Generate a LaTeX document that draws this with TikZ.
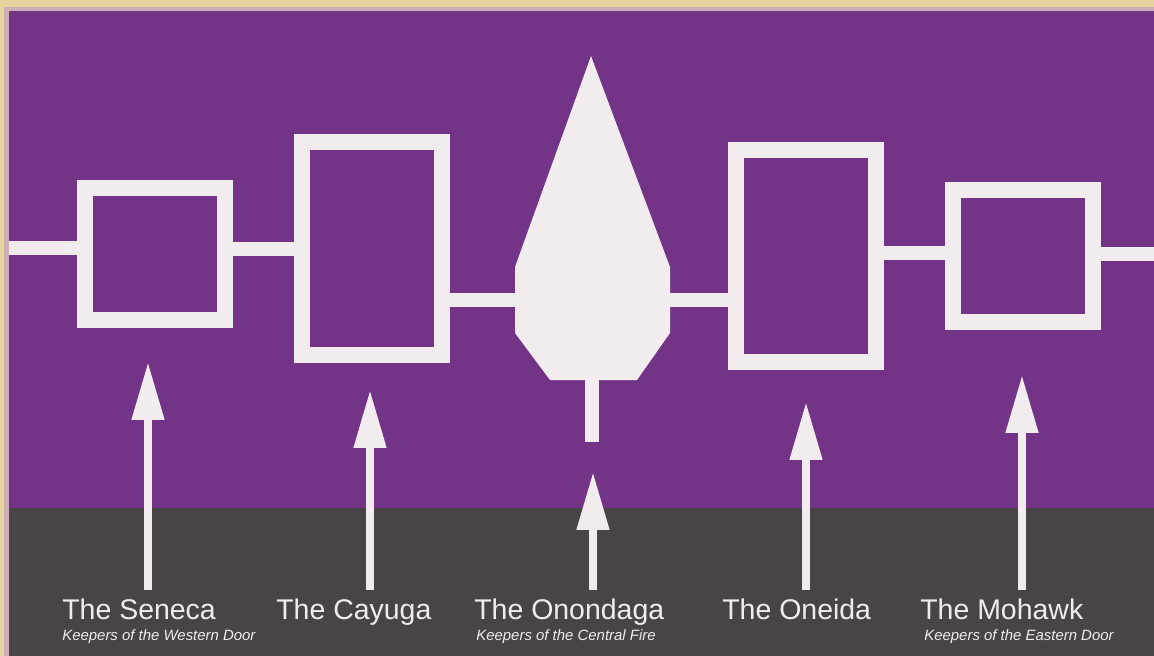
\documentclass[tikz,border=0pt]{standalone}
\usepackage{fontspec}
\setmainfont{Liberation Sans}
\usetikzlibrary{arrows.meta,positioning}
\definecolor{beltpurple}{RGB}{115,51,135}
\definecolor{groundgray}{RGB}{73,69,71}
\definecolor{shellwhite}{RGB}{242,236,238}
\definecolor{frameside}{RGB}{230,212,158}
\definecolor{frameshade}{RGB}{206,174,180}
\newcommand{\nationfont}{\fontsize{16.2}{18}\selectfont}
\newcommand{\mottofont}{\fontsize{8.5}{10}\selectfont\itshape}

\begin{document}
\begin{tikzpicture}[
    x=0.02cm,y=-0.02cm,
    nation/.style={rectangle,draw=shellwhite,line width=9.1pt,inner sep=0pt,
      minimum width=2.8cm},
    short/.style={nation,minimum height=2.64cm},
    tall/.style={nation,minimum height=4.26cm},
    link/.style={draw=shellwhite,line width=8.5pt},
    uparrow/.style={draw=shellwhite,line width=4.5pt,
      -{Triangle[length=1.16cm,width=0.62cm]}},
    title/.style={text=shellwhite,inner sep=0pt,anchor=base west,font=\nationfont},
    motto/.style={text=shellwhite,inner sep=0pt,anchor=base west,font=\mottofont}
  ]
    \useasboundingbox (0,0) rectangle (1154,656);
    % frame and ground
    \fill[frameside] (0,0) rectangle (1154,656);
    \fill[frameshade] (4,7) rectangle (1154,656);
    \fill[beltpurple] (9,11) rectangle (1154,508);
    \fill[groundgray] (9,508) rectangle (1154,656);

    % the five nations
    \node[short] (seneca) at (155,254) {};
    \node[tall] (cayuga) at (372,248.5) {};
    \node[tall] (oneida) at (806,256) {};
    \node[short] (mohawk) at (1023,256) {};

    % central fire
    \fill[shellwhite] (591,56) coordinate (firetop) -- (670,267) -- (670,333)
      -- (637,380) -- (550,380) -- (515,333) -- (515,267) -- cycle;
    \coordinate (firewest) at (515,300);
    \coordinate (fireeast) at (670,300);
    \coordinate (firebase) at (592,378);
    \coordinate (stemend) at (592,442);
    \draw[link] (firebase) -- (stemend);

    % belt line
    \coordinate (westend) at (9,248);
    \coordinate (eastend) at (1154,254);
    \draw[link] (westend) -- (seneca.west |- westend);
    \draw[link] (seneca.east |- 0,249) -- (cayuga.west |- 0,249);
    \draw[link] (cayuga.east |- firewest) -- (firewest);
    \draw[link] (fireeast) -- (oneida.west |- fireeast);
    \draw[link] (oneida.east |- 0,253) -- (mohawk.west |- 0,253);
    \draw[link] (mohawk.east |- eastend) -- (eastend);

    % labels
    \node[title] (senecalbl) at (62,619) {The Seneca};
    \node[motto] (senecamotto) at (62,640) {Keepers of the Western Door};
    \node[title] (cayugalbl) at (276,619) {The Cayuga};
    \node[title] (onondagalbl) at (474,619) {The Onondaga};
    \node[motto] (onondagamotto) at (476,640) {Keepers of the Central Fire};
    \node[title] (oneidalbl) at (722,619) {The Oneida};
    \node[title] (mohawklbl) at (920,619) {The Mohawk};
    \node[motto] (mohawkmotto) at (924,640) {Keepers of the Eastern Door};

    % arrows
    \coordinate (senecatip) at (148,362);
    \coordinate (cayugatip) at (370,390);
    \coordinate (onondagatip) at (593,472);
    \coordinate (oneidatip) at (806,402);
    \coordinate (mohawktip) at (1022,375);
    \draw[uparrow] ([yshift=4.5pt]senecalbl.north -| senecatip) -- (senecatip);
    \draw[uparrow] ([yshift=4.5pt]cayugalbl.north -| cayugatip) -- (cayugatip);
    \draw[uparrow] ([yshift=4.5pt]onondagalbl.north -| onondagatip) -- (onondagatip);
    \draw[uparrow] ([yshift=4.5pt]oneidalbl.north -| oneidatip) -- (oneidatip);
    \draw[uparrow] ([yshift=4.5pt]mohawklbl.north -| mohawktip) -- (mohawktip);
  \end{tikzpicture}
\end{document}
